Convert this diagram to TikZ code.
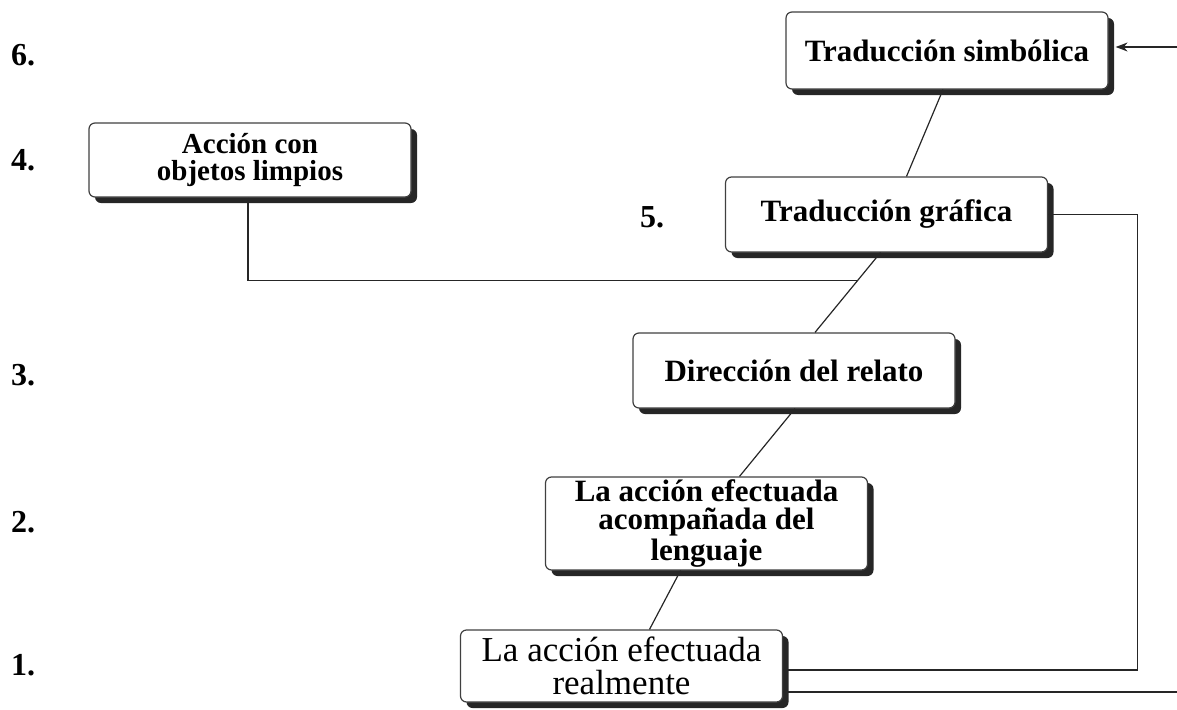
\documentclass[tikz,border=0pt]{standalone}
\usepackage{fontspec}
\setmainfont{Liberation Serif}
\usetikzlibrary{positioning,shadows,calc,arrows.meta}

\begin{document}
\begin{tikzpicture}[
    paso/.style = {draw=black!75, line width=0.6pt, fill=white, rounded corners=3pt,
      drop shadow={shadow xshift=3pt, shadow yshift=-3pt, fill=black!85, opacity=1},
      minimum width=161pt, minimum height=37.5pt, align=center, inner sep=1pt,
      font=\bfseries\fontsize{15.5}{14}\selectfont},
    nivel/.style = {font=\bfseries\fontsize{16}{16}\selectfont},
    enlace/.style = {line width=0.6pt, black!85},
    on grid]
    \useasboundingbox (0,0) rectangle (588.5pt,354.5pt);

    \node[paso, minimum height=36pt, font=\fontsize{17.5}{16.5}\selectfont] (realmente) at (310.75pt,21.5pt) {La acción efectuada\\realmente};
    \node[paso, minimum height=46.5pt, above right=71.25pt and 42.5pt of realmente] (lenguaje) {La acción efectuada\\acompañada del\\lenguaje};
    \node[paso, above right=76.5pt and 43.75pt of lenguaje] (relato) {Dirección del relato};
    \node[paso, above right=78pt and 46.25pt of relato] (grafica) {Traducción gráfica};
    \node[paso, minimum height=38.5pt, above right=82pt and 30.25pt of grafica] (simbolica) {Traducción simbólica};
    \node[paso, minimum height=37pt, font=\bfseries\fontsize{14.5}{13.5}\selectfont,
      above left=27.25pt and 318.25pt of grafica] (objetos) {Acción con\\objetos limpios};

    \node[nivel] (n6) at (11.5pt,327pt) {6.};
    \node[nivel] (n4) at (11.5pt,274.5pt) {4.};
    \node[nivel] (n5) at (326pt,246pt) {5.};
    \node[nivel] (n3) at (11.5pt,167pt) {3.};
    \node[nivel] (n2) at (11.5pt,93.5pt) {2.};
    \node[nivel] (n1) at (11.5pt,22pt) {1.};

    \coordinate (gs) at ([xshift=-3pt]grafica.south);
    \coordinate (rn) at ([xshift=10.5pt]relato.north);
    \coordinate (junta) at ($(gs)!0.35!(rn)$);
    \coordinate (entrada) at (588.5pt,331pt);
    \coordinate (salida) at (588.5pt,8.5pt);

    \draw[enlace] ([xshift=-2pt]simbolica.south) -- ([xshift=10pt]grafica.north);
    \draw[enlace] (gs) -- (rn);
    \draw[enlace] ([xshift=0.5pt]relato.south) -- ([xshift=16.5pt]lenguaje.north);
    \draw[enlace] ([xshift=-13pt]lenguaje.south) -- ([xshift=14pt]realmente.north);
    \draw[enlace] ([xshift=-1pt]objetos.south) |- (junta);
    \draw[enlace] (grafica.east) -- ++(44.5pt,0) |- ([yshift=-2pt]realmente.east);
    \draw[enlace] ([yshift=-13pt]realmente.east) -- (salida);
    \draw[enlace, -{Stealth[length=6pt,width=4.5pt]}, shorten >=3.5pt] (entrada) -- (entrada -| simbolica.east);
\end{tikzpicture}
\end{document}
